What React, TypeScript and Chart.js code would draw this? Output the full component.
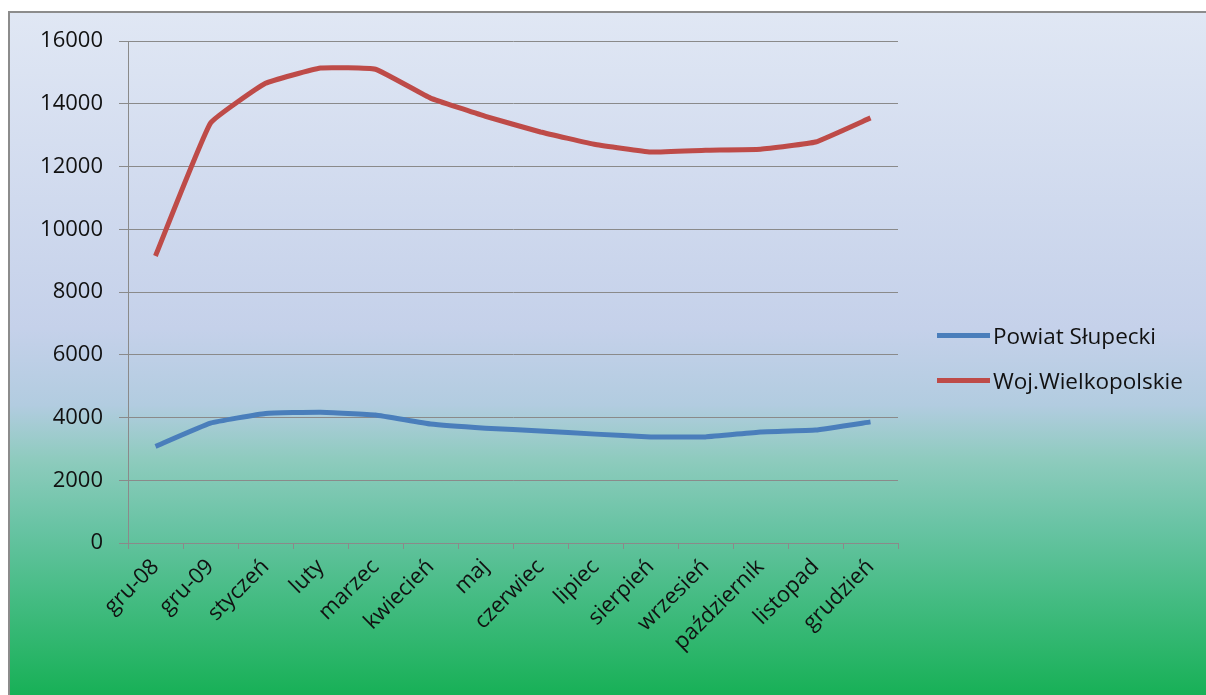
import React, { useEffect, useRef } from "react";
import { Chart, registerables } from "chart.js";

Chart.register(...registerables);

const categories = [
  "gru-08", "gru-09", "styczeń", "luty", "marzec", "kwiecień", "maj",
  "czerwiec", "lipiec", "sierpień", "wrzesień", "październik", "listopad", "grudzień",
];
const powiatSlupecki = [3080, 3820, 4130, 4170, 4080, 3790, 3660, 3570, 3470, 3380, 3380, 3540, 3600, 3860];
const wojWielkopolskie = [9150, 13380, 14650, 15140, 15100, 14180, 13600, 13100, 12700, 12460, 12520, 12550, 12780, 13550];
const yMin = 0;
const yMax = 16000;
const yStep = 2000;

const seriesNames = ["Powiat Słupecki", "Woj.Wielkopolskie"];
const seriesColors = ["#4a7ebb", "#be4b48"];

const FONT = "'Open Sans', 'Noto Sans', sans-serif";

export default function App() {
  const ref = useRef<HTMLCanvasElement | null>(null);

  useEffect(() => {
    if (!ref.current) return;
    const chart = new Chart(ref.current, {
      type: "line",
      data: {
        labels: categories,
        datasets: [
          {
            label: seriesNames[0],
            data: powiatSlupecki,
            borderColor: seriesColors[0],
            backgroundColor: seriesColors[0],
            borderWidth: 5,
            pointRadius: 0,
            tension: 0.1,
          },
          {
            label: seriesNames[1],
            data: wojWielkopolskie,
            borderColor: seriesColors[1],
            backgroundColor: seriesColors[1],
            borderWidth: 5,
            pointRadius: 0,
            tension: 0.1,
          },
        ],
      },
      options: {
        responsive: false,
        animation: false,
        layout: { padding: { top: 41, right: 308, bottom: 0, left: 0 } },
        plugins: { legend: { display: false }, tooltip: { enabled: false } },
        scales: {
          x: {
            offset: true,
            afterFit: (s: any) => { s.height = 152; },
            grid: {
              display: true,
              offset: true,
              drawOnChartArea: false,
              drawTicks: true,
              tickLength: 6,
              color: "#8a8a8a",
            },
            border: { display: true, color: "#8a8a8a", width: 1 },
            ticks: {
              minRotation: 45,
              maxRotation: 45,
              autoSkip: false,
              padding: 5,
              color: "#111111",
              font: { family: FONT, size: 22 },
            },
          },
          y: {
            min: yMin,
            max: yMax,
            afterFit: (s: any) => { s.width = 128; },
            grid: {
              display: true,
              drawTicks: true,
              tickLength: 9,
              color: "#8a8a8a",
            },
            border: { display: true, color: "#8a8a8a", width: 1 },
            ticks: {
              stepSize: yStep,
              padding: 16,
              color: "#111111",
              font: { family: FONT, size: 22 },
              callback: (v: any) => String(v),
            },
          },
        },
      },
    });
    return () => chart.destroy();
  }, []);

  return (
    <div style={{ position: "fixed", left: 0, top: 0, width: 1206, height: 695, overflow: "hidden" }}>
      <div
        style={{
          position: "absolute",
          left: 8,
          top: 11,
          width: 1210,
          height: 700,
          border: "2px solid #8c8c8c",
          background:
            "linear-gradient(to bottom, #e0e7f4 0%, #c5d1ea 45%, #b2cce0 56%, #8dcbbd 64%, #66c3a2 74%, #4abd88 82%, #0fae4e 100%)",
        }}
      />
      <canvas ref={ref} width={1206} height={695} style={{ position: "absolute", left: 0, top: 0 }} />
      {seriesNames.map((name, i) => (
        <div
          key={name}
          style={{
            position: "absolute",
            left: 937,
            top: 335 + i * 45 - 15,
            height: 30,
            display: "flex",
            alignItems: "center",
            fontFamily: FONT,
            fontSize: 22.5,
            color: "#111111",
            whiteSpace: "nowrap",
          }}
        >
          <span style={{ display: "inline-block", width: 53, height: 5, background: seriesColors[i], marginRight: 3 }} />
          <span>{name}</span>
        </div>
      ))}
    </div>
  );
}
